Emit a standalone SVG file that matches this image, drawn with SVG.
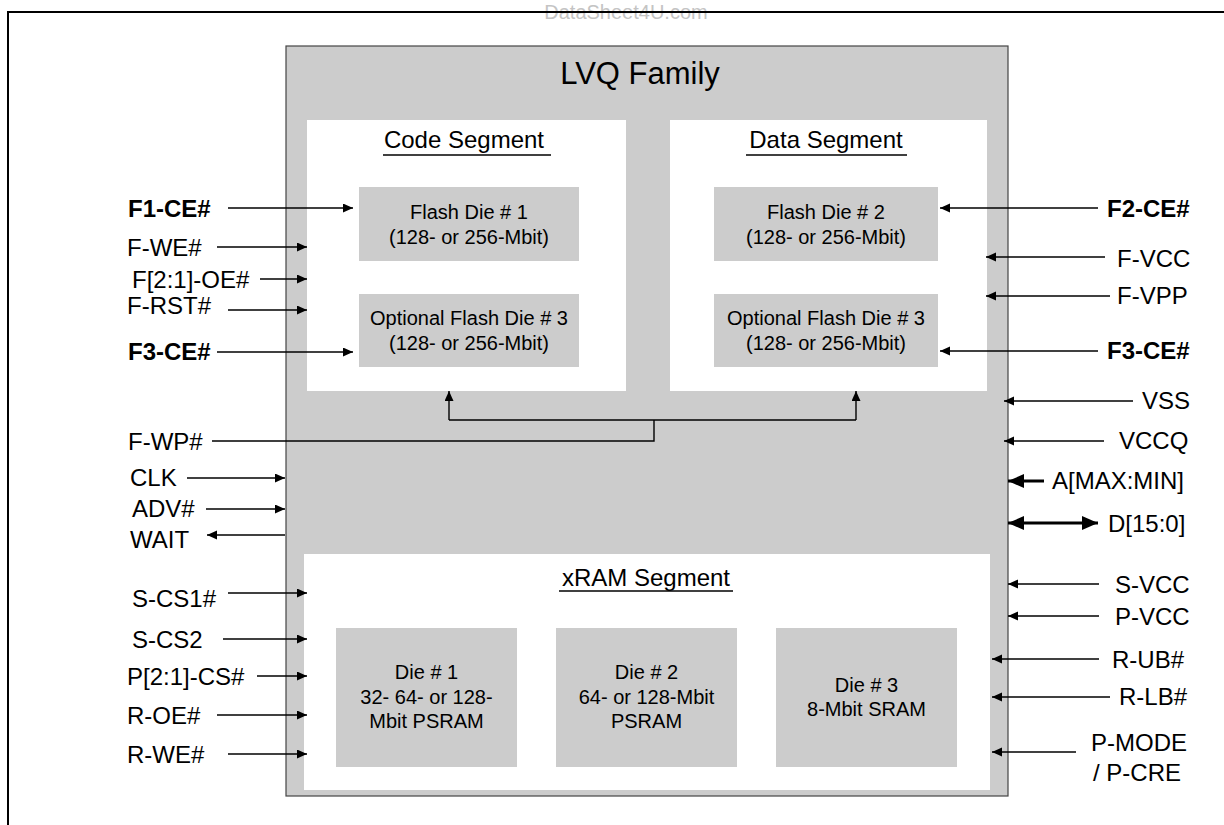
<svg xmlns="http://www.w3.org/2000/svg" width="1224" height="825" viewBox="0 0 1224 825">
<style>
text{font-family:"Liberation Sans",Arial,sans-serif;fill:#000}
.lbl{font-size:24px}
.b{font-weight:bold}
.in{font-size:20px;text-anchor:middle}
.ttl{font-size:24px;text-anchor:middle}
.g{fill:#cccccc}
.w{fill:#ffffff}
.c{stroke:#000;stroke-width:1.4;fill:none}
.t{stroke:#000;stroke-width:3.2;fill:none}
.ul{stroke:#000;stroke-width:1.3}
</style>
<defs>
<marker id="ah" markerUnits="userSpaceOnUse" markerWidth="11" markerHeight="10" refX="10" refY="4.5" orient="auto"><path d="M0,0 L10,4.5 L0,9 z" fill="#000"/></marker>
<marker id="ahT" markerUnits="userSpaceOnUse" markerWidth="18" markerHeight="16" refX="16" refY="7" orient="auto-start-reverse"><path d="M0,0 L16,7 L0,14 z" fill="#000"/></marker>
</defs>
<rect width="1224" height="825" fill="#fff"/>
<g id="watermark"><text x="626" y="19" style="font-size:20px;text-anchor:middle;fill:#c4c4c4">DataSheet4U.com</text></g>
<g id="frame"><path d="M8,825 V12 H1224" stroke="#000" stroke-width="2" fill="none"/></g>
<g id="lvq-family">
<rect x="286" y="46" width="722" height="750" class="g" stroke="#444" stroke-width="1.2"/>
<text x="640" y="84" style="font-size:31px;text-anchor:middle">LVQ Family</text>
</g>
<g id="code-segment">
<rect x="307" y="120" width="319" height="271" class="w"/>
<text x="464" y="148" class="ttl">Code Segment</text>
<line x1="383" y1="155" x2="551" y2="155" class="ul"/>
</g>
<g id="data-segment">
<rect x="670" y="120" width="317" height="271" class="w"/>
<text x="826" y="148" class="ttl">Data Segment</text>
<line x1="746" y1="155" x2="907" y2="155" class="ul"/>
</g>
<g id="xram-segment">
<rect x="304" y="554" width="686" height="236" class="w"/>
<text x="646" y="586" class="ttl">xRAM Segment</text>
<line x1="559" y1="591" x2="733" y2="591" class="ul"/>
</g>
<g id="flash-die-1">
<rect x="359" y="187" width="220" height="74" class="g"/>
<text x="469" y="219" class="in">Flash Die # 1</text>
<text x="469" y="244" class="in">(128- or 256-Mbit)</text>
</g>
<g id="code-flash-die-3">
<rect x="359" y="294" width="220" height="73" class="g"/>
<text x="469" y="325" class="in">Optional Flash Die # 3</text>
<text x="469" y="350" class="in">(128- or 256-Mbit)</text>
</g>
<g id="flash-die-2">
<rect x="714" y="187" width="224" height="74" class="g"/>
<text x="826" y="219" class="in">Flash Die # 2</text>
<text x="826" y="244" class="in">(128- or 256-Mbit)</text>
</g>
<g id="data-flash-die-3">
<rect x="714" y="294" width="224" height="73" class="g"/>
<text x="826" y="325" class="in">Optional Flash Die # 3</text>
<text x="826" y="350" class="in">(128- or 256-Mbit)</text>
</g>
<g id="ram-die-1">
<rect x="336" y="628" width="181" height="139" class="g"/>
<text x="426.5" y="679" class="in">Die # 1</text>
<text x="426.5" y="704" class="in">32- 64- or 128-</text>
<text x="426.5" y="728" class="in">Mbit PSRAM</text>
</g>
<g id="ram-die-2">
<rect x="556" y="628" width="181" height="139" class="g"/>
<text x="646.5" y="679" class="in">Die # 2</text>
<text x="646.5" y="704" class="in">64- or 128-Mbit</text>
<text x="646.5" y="728" class="in">PSRAM</text>
</g>
<g id="ram-die-3">
<rect x="776" y="628" width="181" height="139" class="g"/>
<text x="866.5" y="692" class="in">Die # 3</text>
<text x="866.5" y="716" class="in">8-Mbit SRAM</text>
</g>
<g id="left-signals">
<text x="128" y="217" class="lbl b">F1-CE#</text>
<text x="127" y="256" class="lbl">F-WE#</text>
<text x="132" y="288" class="lbl">F[2:1]-OE#</text>
<text x="127" y="314" class="lbl">F-RST#</text>
<text x="128" y="360" class="lbl b">F3-CE#</text>
<text x="128" y="450" class="lbl">F-WP#</text>
<text x="130" y="486" class="lbl">CLK</text>
<text x="132" y="517" class="lbl">ADV#</text>
<text x="130" y="548" class="lbl">WAIT</text>
<text x="132" y="607" class="lbl">S-CS1#</text>
<text x="132" y="648" class="lbl">S-CS2</text>
<text x="127" y="685" class="lbl">P[2:1]-CS#</text>
<text x="127" y="724" class="lbl">R-OE#</text>
<text x="127" y="763" class="lbl">R-WE#</text>
</g>
<g id="right-signals">
<text x="1107" y="217" class="lbl b">F2-CE#</text>
<text x="1117" y="267" class="lbl">F-VCC</text>
<text x="1117" y="304" class="lbl">F-VPP</text>
<text x="1107" y="359" class="lbl b">F3-CE#</text>
<text x="1142" y="409" class="lbl">VSS</text>
<text x="1119" y="449" class="lbl">VCCQ</text>
<text x="1052" y="489" class="lbl">A[MAX:MIN]</text>
<text x="1108" y="532" class="lbl">D[15:0]</text>
<text x="1115" y="593" class="lbl">S-VCC</text>
<text x="1115" y="625" class="lbl">P-VCC</text>
<text x="1112" y="668" class="lbl">R-UB#</text>
<text x="1119" y="705" class="lbl">R-LB#</text>
<text x="1091" y="751" class="lbl">P-MODE</text>
<text x="1093" y="781" class="lbl">/ P-CRE</text>
</g>
<g id="connectors">
<line x1="228" y1="208" x2="353" y2="208" class="c" marker-end="url(#ah)"/>
<line x1="217" y1="247" x2="307" y2="247" class="c" marker-end="url(#ah)"/>
<line x1="260" y1="279" x2="307" y2="279" class="c" marker-end="url(#ah)"/>
<line x1="228" y1="310" x2="307" y2="310" class="c" marker-end="url(#ah)"/>
<line x1="217" y1="352" x2="353" y2="352" class="c" marker-end="url(#ah)"/>
<path d="M212,441 H654 V420" class="c"/>
<path d="M449,420 H856" class="c"/>
<line x1="449" y1="420" x2="449" y2="391" class="c" marker-end="url(#ah)"/>
<line x1="856" y1="420" x2="856" y2="391" class="c" marker-end="url(#ah)"/>
<line x1="187" y1="478" x2="285" y2="478" class="c" marker-end="url(#ah)"/>
<line x1="206" y1="509" x2="285" y2="509" class="c" marker-end="url(#ah)"/>
<line x1="285" y1="535" x2="207" y2="535" class="c" marker-end="url(#ah)"/>
<line x1="228" y1="593" x2="307" y2="593" class="c" marker-end="url(#ah)"/>
<line x1="223" y1="639" x2="307" y2="639" class="c" marker-end="url(#ah)"/>
<line x1="257" y1="676" x2="307" y2="676" class="c" marker-end="url(#ah)"/>
<line x1="217" y1="715" x2="307" y2="715" class="c" marker-end="url(#ah)"/>
<line x1="228" y1="754" x2="307" y2="754" class="c" marker-end="url(#ah)"/>
<line x1="1098" y1="208" x2="940" y2="208" class="c" marker-end="url(#ah)"/>
<line x1="1105" y1="257" x2="986" y2="257" class="c" marker-end="url(#ah)"/>
<line x1="1110" y1="296" x2="986" y2="296" class="c" marker-end="url(#ah)"/>
<line x1="1098" y1="351" x2="940" y2="351" class="c" marker-end="url(#ah)"/>
<line x1="1133" y1="401" x2="1004" y2="401" class="c" marker-end="url(#ah)"/>
<line x1="1104" y1="441" x2="1004" y2="441" class="c" marker-end="url(#ah)"/>
<line x1="1044" y1="481" x2="1008" y2="481" class="t" marker-end="url(#ahT)"/>
<line x1="1008" y1="523" x2="1098" y2="523" class="t" marker-start="url(#ahT)" marker-end="url(#ahT)"/>
<line x1="1099" y1="584" x2="1008" y2="584" class="c" marker-end="url(#ah)"/>
<line x1="1099" y1="616" x2="1008" y2="616" class="c" marker-end="url(#ah)"/>
<line x1="1099" y1="659" x2="992" y2="659" class="c" marker-end="url(#ah)"/>
<line x1="1110" y1="697" x2="992" y2="697" class="c" marker-end="url(#ah)"/>
<line x1="1076" y1="752" x2="992" y2="752" class="c" marker-end="url(#ah)"/>
</g>
</svg>
